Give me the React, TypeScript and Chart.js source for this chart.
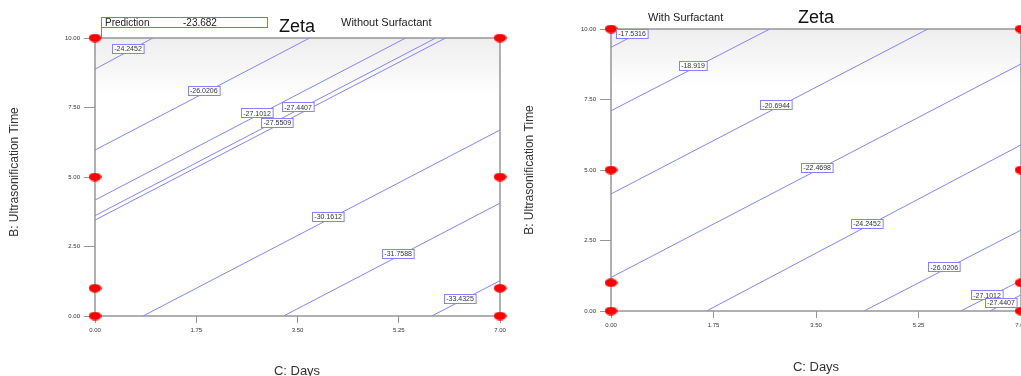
import React, { useEffect, useRef } from 'react';
import { Chart, registerables } from 'chart.js';
Chart.register(...registerables);

// ---- data ----
const cTicks = [0, 1.75, 3.5, 5.25, 7];
const bTicks = [0, 2.5, 5, 7.5, 10];

const designC = [0, 7, 0, 7, 0, 7, 0, 7];
const designB = [10, 10, 5, 5, 1, 1, 0, 0];

const predictionLabel = 'Prediction';
const predictionValue = '-23.682';

// Without surfactant
const leftLevels = [-24.2452, -26.0206, -27.1012, -27.4407, -27.5509, -30.1612, -31.7588, -33.4325];
const leftStartC = [0, 0, 0, 0, 0, 0.83, 3.26, 5.82];
const leftStartB = [8.88, 5.97, 4.17, 3.61, 3.45, 0, 0, 0];
const leftEndC = [1.0, 3.71, 5.37, 5.89, 6.06, 7, 7, 7];
const leftEndB = [10, 10, 10, 10, 10, 6.69, 4.06, 1.27];
const leftLabelC = [0.57, 1.88, 2.8, 3.51, 3.15, 4.03, 5.24, 6.31];

// With surfactant
const rightLevels = [-17.5316, -18.919, -20.6944, -22.4698, -24.2452, -26.0206, -27.1012, -27.4407];
const rightStartC = [0, 0, 0, 0, 1.63, 4.32, 5.97, 6.47];
const rightStartB = [9.35, 7.1, 4.15, 1.19, 0, 0, 0, 0];
const rightEndC = [0.6, 2.71, 5.41, 7, 7, 7, 7, 7];
const rightEndB = [10, 10, 10, 8.76, 5.89, 2.87, 1.08, 0.57];
const rightLabelC = [0.36, 1.4, 2.82, 3.52, 4.37, 5.69, 6.42, 6.66];

const FONT = "Arial, 'Liberation Sans', sans-serif";
const LINE = '#8383ff';

function ellipseCanvas() {
  const c = document.createElement('canvas');
  c.width = 13;
  c.height = 9;
  const g = c.getContext('2d')!;
  g.fillStyle = '#ff0000';
  g.beginPath();
  g.ellipse(6.5, 4.5, 6.3, 4.2, 0, 0, Math.PI * 2);
  g.fill();
  return c;
}

type Panel = {
  levels: number[];
  sC: number[];
  sB: number[];
  eC: number[];
  eB: number[];
  lC: number[];
  subtitle: string;
  subX: number;
  subY: number;
  zetaX: number;
  zetaY: number;
  yTitleX: number;
  yTitleY: number;
  xTitleX: number;
  xTitleY: number;
  prediction: boolean;
  padding: { left: number; top: number; right: number; bottom: number };
  yWidth: number;
  xHeight: number;
  shadeH: number;
};

function makeChart(canvas: HTMLCanvasElement, p: Panel) {
  const dot = ellipseCanvas();
  const pointsDs: any = {
    label: 'design',
    data: designC.map((c, i) => ({ x: c, y: designB[i] })),
    pointStyle: dot,
    pointRadius: 6,
    showLine: false,
    clip: false,
  };
  const lineDs: any[] = p.levels.map((lv, i) => ({
    label: String(lv),
    data: [
      { x: p.sC[i], y: p.sB[i] },
      { x: p.eC[i], y: p.eB[i] },
    ],
    showLine: true,
    borderColor: LINE,
    borderWidth: 1,
    pointRadius: 0,
    fill: false,
  }));

  const plugin = {
    id: 'panelDecor',
    beforeDatasetsDraw(chart: any) {
      const { ctx, chartArea: a } = chart;
      ctx.save();
      const gh = p.shadeH;
      const g = ctx.createLinearGradient(0, a.top, 0, a.top + gh);
      g.addColorStop(0, '#eeeeee');
      g.addColorStop(0.5, '#f6f6f6');
      g.addColorStop(1, '#ffffff');
      ctx.fillStyle = g;
      ctx.fillRect(a.left, a.top, a.right - a.left, gh);
      ctx.strokeStyle = '#969696';
      ctx.lineWidth = 1.5;
      ctx.strokeRect(a.left, a.top, a.right - a.left, a.bottom - a.top);
      ctx.restore();
    },
    afterDatasetsDraw(chart: any) {
      const { ctx } = chart;
      const xs = chart.scales.x;
      const ys = chart.scales.y;
      ctx.save();
      ctx.font = `7px ${FONT}`;
      ctx.textAlign = 'center';
      ctx.textBaseline = 'middle';
      p.levels.forEach((lv, i) => {
        const c = p.lC[i];
        const t = (c - p.sC[i]) / (p.eC[i] - p.sC[i]);
        const b = p.sB[i] + t * (p.eB[i] - p.sB[i]);
        const px = xs.getPixelForValue(c);
        const py = ys.getPixelForValue(b) - 3;
        const txt = String(lv);
        const w = ctx.measureText(txt).width + 4;
        const h = 9;
        ctx.fillStyle = '#ffffff';
        ctx.fillRect(Math.round(px - w / 2) + 0.5, Math.round(py - h / 2) + 0.5, w, h);
        ctx.strokeStyle = LINE;
        ctx.lineWidth = 1;
        ctx.strokeRect(Math.round(px - w / 2) + 0.5, Math.round(py - h / 2) + 0.5, w, h);
        ctx.fillStyle = '#333333';
        ctx.fillText(txt, px, py + 1);
      });
      ctx.restore();
    },
    afterDraw(chart: any) {
      const { ctx } = chart;
      ctx.save();
      ctx.fillStyle = '#111111';
      ctx.textBaseline = 'middle';
      ctx.textAlign = 'center';
      ctx.font = `18px ${FONT}`;
      ctx.fillText('Zeta', p.zetaX, p.zetaY);
      ctx.fillStyle = '#222222';
      ctx.textAlign = 'left';
      ctx.font = `11px ${FONT}`;
      ctx.fillText(p.subtitle, p.subX, p.subY);
      ctx.fillStyle = '#333333';
      ctx.textAlign = 'center';
      ctx.font = `13px ${FONT}`;
      ctx.fillText('C: Days', p.xTitleX, p.xTitleY);
      ctx.save();
      ctx.translate(p.yTitleX, p.yTitleY);
      ctx.rotate(-Math.PI / 2);
      ctx.font = `12px ${FONT}`;
      ctx.fillText('B: Ultrasonification Time', 0, 0);
      ctx.restore();
      if (p.prediction) {
        const a = chart.chartArea;
        ctx.strokeStyle = '#7070ff';
        ctx.lineWidth = 1;
        ctx.strokeRect(101.5, 17.5, 166, 10);
        ctx.beginPath();
        ctx.moveTo(101.5, 27.5);
        ctx.lineTo(101.5, a.top + 1);
        ctx.stroke();
        ctx.fillStyle = '#222222';
        ctx.textAlign = 'left';
        ctx.font = `10px ${FONT}`;
        ctx.fillText(predictionLabel, 105, 23);
        ctx.fillText(predictionValue, 183, 23);
      }
      ctx.restore();
    },
  };

  const tickFont = { family: FONT, size: 6 };

  return new Chart(canvas, {
    type: 'scatter',
    data: { datasets: [pointsDs, ...lineDs] },
    options: {
      animation: false,
      responsive: false,
      events: [],
      layout: { padding: p.padding },
      plugins: { legend: { display: false }, tooltip: { enabled: false }, title: { display: false } },
      scales: {
        x: {
          type: 'linear',
          min: 0,
          max: 7,
          afterBuildTicks: (s: any) => {
            s.ticks = cTicks.map((v) => ({ value: v }));
          },
          afterFit: (s: any) => {
            s.height = p.xHeight;
          },
          grid: { display: true, drawOnChartArea: false, drawTicks: true, tickLength: 7, color: '#969696', lineWidth: 1 },
          border: { display: false },
          ticks: {
            font: tickFont,
            color: '#333333',
            padding: 4,
            maxRotation: 0,
            autoSkip: false,
            callback: (v: any) => Number(v).toFixed(2),
          },
        },
        y: {
          type: 'linear',
          min: 0,
          max: 10,
          afterBuildTicks: (s: any) => {
            s.ticks = bTicks.map((v) => ({ value: v }));
          },
          afterFit: (s: any) => {
            s.width = p.yWidth;
          },
          grid: { display: true, drawOnChartArea: false, drawTicks: true, tickLength: 11, color: '#969696', lineWidth: 1 },
          border: { display: false },
          ticks: {
            font: tickFont,
            color: '#333333',
            padding: 4,
            autoSkip: false,
            callback: (v: any) => Number(v).toFixed(2),
          },
        },
      },
    } as any,
    plugins: [plugin as any],
  });
}

export default function App() {
  const leftRef = useRef<HTMLCanvasElement>(null);
  const rightRef = useRef<HTMLCanvasElement>(null);

  useEffect(() => {
    const left = makeChart(leftRef.current!, {
      levels: leftLevels,
      sC: leftStartC,
      sB: leftStartB,
      eC: leftEndC,
      eB: leftEndB,
      lC: leftLabelC,
      subtitle: 'Without Surfactant',
      subX: 341,
      subY: 23,
      zetaX: 297,
      zetaY: 27,
      yTitleX: 15,
      yTitleY: 172,
      xTitleX: 297,
      xTitleY: 371,
      prediction: true,
      padding: { left: 0, top: 38, right: 10, bottom: 0 },
      yWidth: 95,
      xHeight: 60,
      shadeH: 58,
    });
    const right = makeChart(rightRef.current!, {
      levels: rightLevels,
      sC: rightStartC,
      sB: rightStartB,
      eC: rightEndC,
      eB: rightEndB,
      lC: rightLabelC,
      subtitle: 'With Surfactant',
      subX: 138,
      subY: 18,
      zetaX: 306,
      zetaY: 18,
      yTitleX: 20,
      yTitleY: 170,
      xTitleX: 306,
      xTitleY: 367,
      prediction: false,
      padding: { left: 0, top: 29, right: 29, bottom: 0 },
      yWidth: 101,
      xHeight: 65,
      shadeH: 58,
    });
    return () => {
      left.destroy();
      right.destroy();
    };
  }, []);

  return (
    <div
      style={{
        position: 'absolute',
        left: 0,
        top: 0,
        width: 1021,
        height: 376,
        overflow: 'hidden',
        background: '#ffffff',
      }}
    >
      <canvas ref={leftRef} width={510} height={376} style={{ position: 'absolute', left: 0, top: 0 }} />
      <canvas ref={rightRef} width={540} height={376} style={{ position: 'absolute', left: 510, top: 0 }} />
    </div>
  );
}
